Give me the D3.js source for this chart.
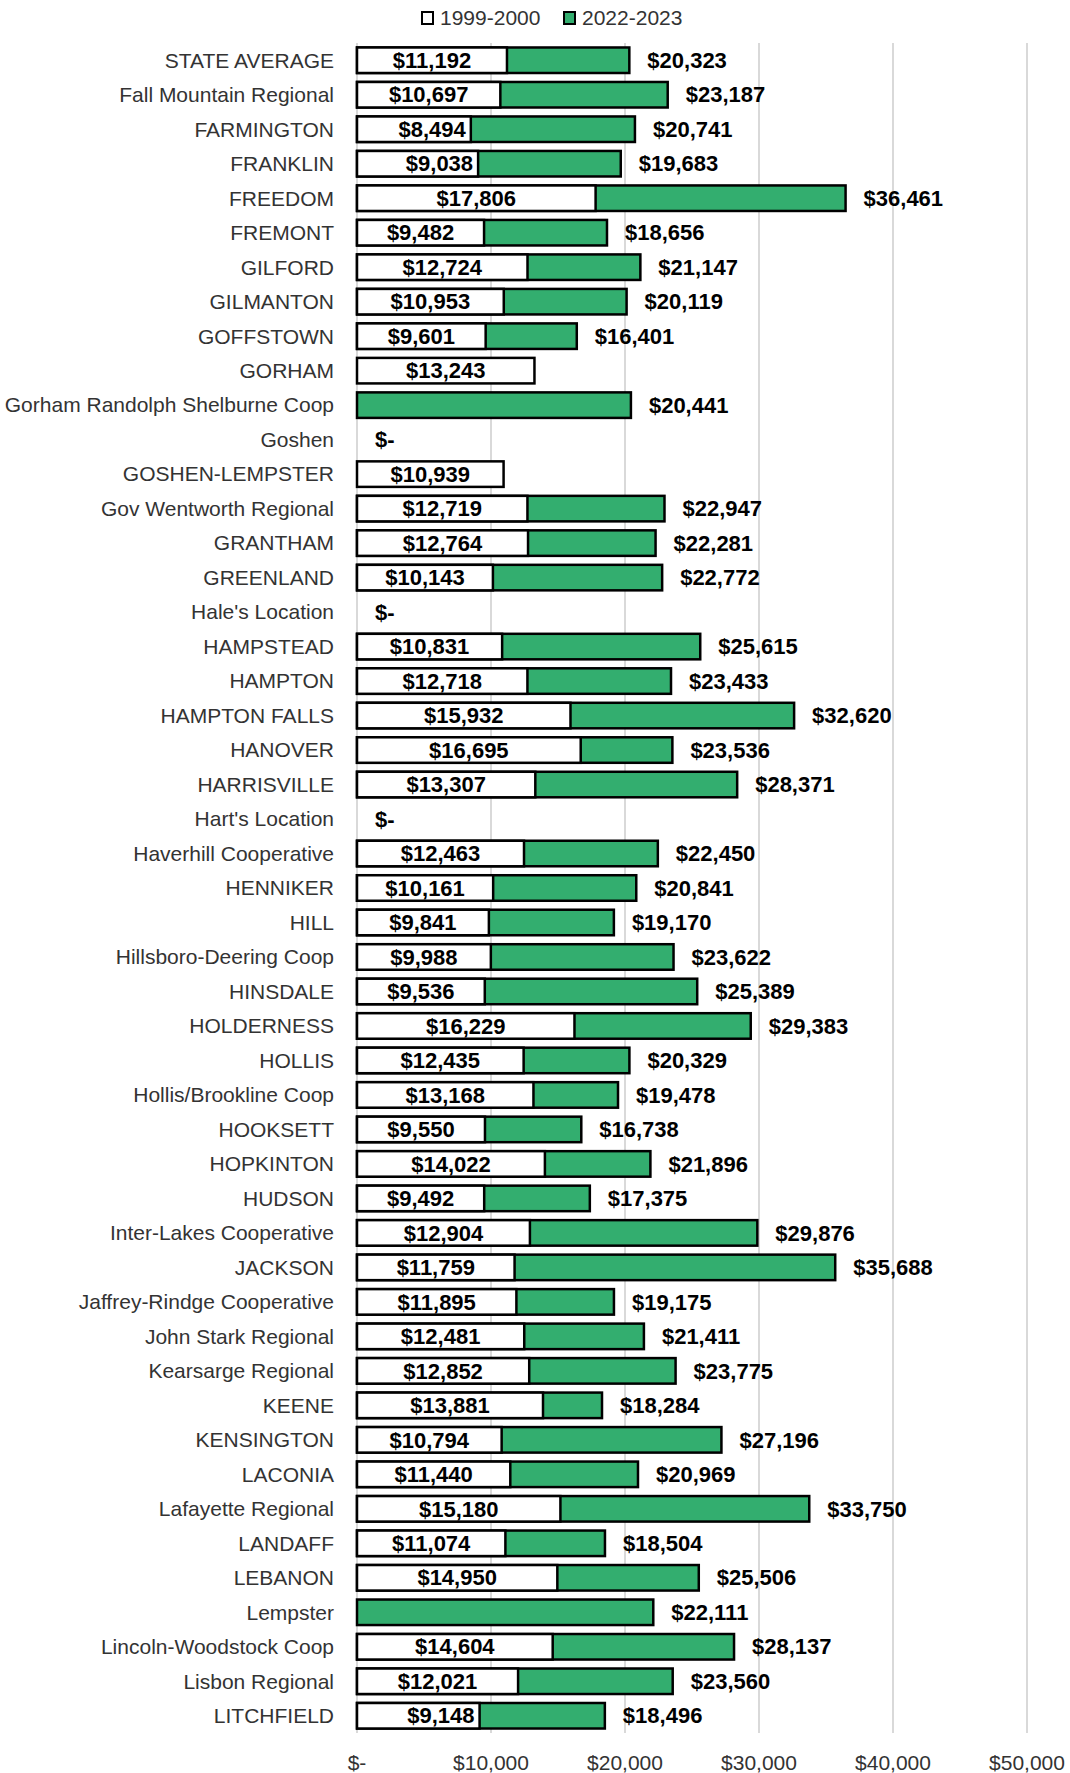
<!DOCTYPE html>
<html>
<head>
<meta charset="utf-8">
<script src="https://cdn.jsdelivr.net/npm/d3@7"></script>
<style>
  body { margin: 0; background: #fff; }
  svg text { font-family: "Liberation Sans", Arial, sans-serif; }
</style>
</head>
<body>
<svg id="chart" width="1070" height="1773"></svg>
<script>
const width = 1070;
const height = 1773;

// districts, top to bottom
const districts = ["STATE AVERAGE", "Fall Mountain Regional", "FARMINGTON", "FRANKLIN", "FREEDOM", "FREMONT",
    "GILFORD", "GILMANTON", "GOFFSTOWN", "GORHAM", "Gorham Randolph Shelburne Coop", "Goshen", "GOSHEN-LEMPSTER",
    "Gov Wentworth Regional", "GRANTHAM", "GREENLAND", "Hale's Location", "HAMPSTEAD", "HAMPTON", "HAMPTON FALLS",
    "HANOVER", "HARRISVILLE", "Hart's Location", "Haverhill Cooperative", "HENNIKER", "HILL", "Hillsboro-Deering Coop",
    "HINSDALE", "HOLDERNESS", "HOLLIS", "Hollis/Brookline Coop", "HOOKSETT", "HOPKINTON", "HUDSON",
    "Inter-Lakes Cooperative", "JACKSON", "Jaffrey-Rindge Cooperative", "John Stark Regional", "Kearsarge Regional",
    "KEENE", "KENSINGTON", "LACONIA", "Lafayette Regional", "LANDAFF", "LEBANON", "Lempster",
    "Lincoln-Woodstock Coop", "Lisbon Regional", "LITCHFIELD"];

// 1999-2000 cost per pupil (null = no value)
const cost1999 = [11192, 10697, 8494, 9038, 17806, 9482,
    12724, 10953, 9601, 13243, null, null, 10939,
    12719, 12764, 10143, null, 10831, 12718, 15932,
    16695, 13307, null, 12463, 10161, 9841, 9988,
    9536, 16229, 12435, 13168, 9550, 14022, 9492,
    12904, 11759, 11895, 12481, 12852,
    13881, 10794, 11440, 15180, 11074, 14950, null,
    14604, 12021, 9148];

// 2022-2023 cost per pupil
const cost2022 = [20323, 23187, 20741, 19683, 36461, 18656,
    21147, 20119, 16401, null, 20441, 0, null,
    22947, 22281, 22772, 0, 25615, 23433, 32620,
    23536, 28371, 0, 22450, 20841, 19170, 23622,
    25389, 29383, 20329, 19478, 16738, 21896, 17375,
    29876, 35688, 19175, 21411, 23775,
    18284, 27196, 20969, 33750, 18504, 25506, 22111,
    28137, 23560, 18496];

const seriesNames = ["1999-2000", "2022-2023"];
const xTicks = [0, 10000, 20000, 30000, 40000, 50000];

// these 1999 labels sit against the end of the white bar instead of its middle
const endLabels = ["FARMINGTON", "FRANKLIN", "LITCHFIELD"];

const green = "#33ae6f";
const grid = "#d9d9d9";

const rows = districts.map(function(d, i){
    return {name: d, old: cost1999[i], now: cost2022[i]};
});

// money format like excel accounting: 0 -> "$-"
const money = function(v){
    if (v === 0) return "$-";
    return "$" + d3.format(",")(v);
};

const svg = d3.select("#chart");

const x = d3.scaleLinear()
    .domain([0, 50000])
    .range([357, 1027]);

const y = d3.scaleBand()
    .domain(districts)
    .range([43, 1733])
    .paddingInner(0.26)
    .paddingOuter(0.13);

// gridlines
svg.append("g")
    .selectAll("line")
    .data(xTicks)
    .enter()
    .append("line")
        .attr("x1", d => x(d))
        .attr("x2", d => x(d))
        .attr("y1", 43)
        .attr("y2", 1733)
        .attr("stroke", grid)
        .attr("stroke-width", 2);

// x tick labels
svg.append("g")
    .selectAll("text")
    .data(xTicks)
    .enter()
    .append("text")
        .attr("x", d => x(d))
        .attr("y", 1763)
        .attr("dy", "0.35em")
        .attr("text-anchor", "middle")
        .attr("font-size", 21)
        .attr("fill", "#333")
        .text(d => money(d));

// category labels
svg.append("g")
    .selectAll("text")
    .data(rows)
    .enter()
    .append("text")
        .attr("x", 334)
        .attr("y", d => y(d.name) + y.bandwidth() / 2)
        .attr("dy", "0.35em")
        .attr("text-anchor", "end")
        .attr("font-size", 21)
        .attr("fill", "#333")
        .text(d => d.name);

// green bars (full length), drawn behind the white ones
svg.append("g")
    .selectAll("rect")
    .data(rows.filter(d => d.now))
    .enter()
    .append("rect")
        .attr("x", x(0))
        .attr("y", d => y(d.name))
        .attr("width", d => x(d.now) - x(0))
        .attr("height", y.bandwidth())
        .attr("fill", green)
        .attr("stroke", "#000")
        .attr("stroke-width", 2.5);

svg.append("g")
    .selectAll("rect")
    .data(rows.filter(d => d.old))
    .enter()
    .append("rect")
        .attr("x", x(0))
        .attr("y", d => y(d.name))
        .attr("width", d => x(d.old) - x(0))
        .attr("height", y.bandwidth())
        .attr("fill", "#fff")
        .attr("stroke", "#000")
        .attr("stroke-width", 2.5);

// labels in the middle of the white bars
svg.append("g")
    .selectAll("text")
    .data(rows.filter(d => d.old))
    .enter()
    .append("text")
        .attr("x", function(d){
            if (endLabels.includes(d.name)) return x(d.old) - 5;
            return (x(0) + x(d.old)) / 2;
        })
        .attr("y", d => y(d.name) + y.bandwidth() / 2)
        .attr("dy", "0.35em")
        .attr("text-anchor", d => endLabels.includes(d.name) ? "end" : "middle")
        .attr("font-size", 22)
        .attr("font-weight", "bold")
        .attr("fill", "#000")
        .text(d => money(d.old));

// labels past the end of the green bars
svg.append("g")
    .selectAll("text")
    .data(rows.filter(d => d.now !== null))
    .enter()
    .append("text")
        .attr("x", d => x(d.now) + 18)
        .attr("y", d => y(d.name) + y.bandwidth() / 2)
        .attr("dy", "0.35em")
        .attr("font-size", 22)
        .attr("font-weight", "bold")
        .attr("fill", "#000")
        .text(d => money(d.now));

// legend
const legend = svg.append("g");
const legendX = [422, 564];
seriesNames.forEach(function(name, i){
    legend.append("rect")
        .attr("x", legendX[i])
        .attr("y", 12)
        .attr("width", 11)
        .attr("height", 12)
        .attr("fill", i === 0 ? "#fff" : green)
        .attr("stroke", "#000")
        .attr("stroke-width", 2);
    legend.append("text")
        .attr("x", legendX[i] + 18)
        .attr("y", 18)
        .attr("dy", "0.35em")
        .attr("font-size", 21)
        .attr("fill", "#333")
        .text(name);
});
</script>
</body>
</html>
